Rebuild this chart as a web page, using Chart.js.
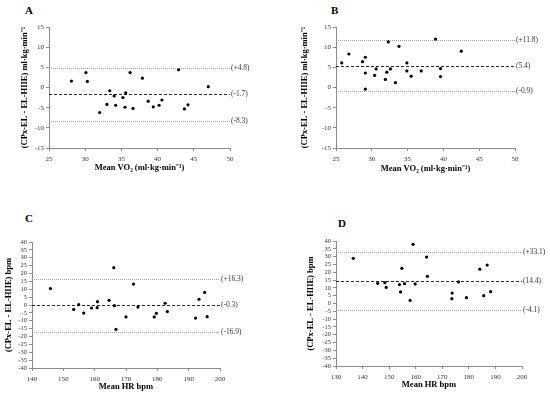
<!DOCTYPE html>
<html>
<head>
<meta charset="utf-8">
<script src="https://cdn.jsdelivr.net/npm/chart.js@4.4.1/dist/chart.umd.min.js"></script>
<style>
  body { margin: 0; background: #fff; width: 550px; height: 396px; position: relative; overflow: hidden; }
  canvas { position: absolute; }
  .letter { position: absolute; font-family: "Liberation Serif", serif; font-weight: bold; font-size: 11px; line-height: 11px; color: #000; }
</style>
</head>
<body>
<div class="letter" style="left:25px;top:5px">A</div>
<div class="letter" style="left:331px;top:5px">B</div>
<div class="letter" style="left:25px;top:213px">C</div>
<div class="letter" style="left:338px;top:218px">D</div>
<canvas id="chartA" width="275" height="196" style="left:0;top:0"></canvas>
<canvas id="chartB" width="275" height="196" style="left:275px;top:0"></canvas>
<canvas id="chartC" width="275" height="200" style="left:0;top:196px"></canvas>
<canvas id="chartD" width="275" height="200" style="left:275px;top:196px"></canvas>
<script>
// panel A - VO2, CPx-EL vs EL-HIIE
const aMean = [28.1, 30.1, 30.3, 32.0, 33.0, 33.4, 34.0, 34.2, 35.2, 35.5, 35.6, 36.2, 36.6, 37.9, 38.7, 39.4, 40.2, 40.6, 42.9, 43.7, 44.2, 47.0];
const aDiff = [1.6, 3.7, 1.5, -6.2, -4.2, -0.8, -2.1, -4.4, -2.5, -4.9, -1.3, 3.7, -5.2, 2.3, -3.4, -4.8, -4.4, -3.1, 4.4, -5.3, -4.3, 0.2];
const aBands = [4.8, -1.7, -8.3];
const aBandLabels = ['(+4.8)', '(-1.7)', '(-8.3)'];

// panel B
const bMean = [25.8, 26.8, 28.7, 29.1, 29.1, 29.1, 30.4, 30.6, 31.9, 32.1, 32.3, 32.6, 33.3, 33.8, 34.9, 34.9, 35.5, 36.9, 38.9, 39.6, 39.6, 42.5];
const bDiff = [6.1, 8.3, 6.4, 7.5, 3.6, -0.4, 3.0, 4.6, 2.0, 3.8, 11.3, 4.6, 1.2, 10.2, 6.1, 4.1, 2.8, 4.1, 12.0, 4.7, 2.7, 9.0];
const bBands = [11.8, 5.4, -0.9];
const bBandLabels = ['(+11.8)', '(5.4)', '(-0.9)'];

// panel C - HR
const cMean = [145.9, 153.3, 154.9, 156.5, 159.0, 160.8, 160.9, 164.6, 166.1, 166.3, 166.8, 170.0, 172.4, 173.8, 179.0, 179.7, 182.5, 183.2, 192.2, 193.3, 195.1, 195.9];
const cDiff = [10.4, -2.8, 0.2, -5.1, -1.9, -1.7, 2.1, 3.0, 23.7, -0.4, -15.5, -7.6, 13.3, -1.3, -7.6, -5.3, 1.1, -4.2, -8.3, 3.6, 8.0, -7.4];
const cBands = [16.3, -0.3, -16.9];
const cBandLabels = ['(+16.3)', '(-0.3)', '(-16.9)'];

// panel D
const dMean = [136.5, 145.7, 148.4, 148.9, 153.9, 154.3, 154.8, 155.8, 157.9, 159.0, 159.8, 164.1, 164.4, 173.6, 173.7, 176.1, 179.1, 184.1, 185.6, 186.9, 188.2];
const dDiff = [28.9, 12.9, 13.3, 10.3, 12.1, 7.4, 22.5, 12.7, 2.0, 37.9, 12.5, 29.7, 17.4, 3.1, 6.7, 13.8, 3.7, 22.0, 5.0, 24.6, 7.6];
const dBands = [33.1, 14.4, -4.1];
const dBandLabels = ['(+33.1)', '(14.4)', '(-4.1)'];

const vo2Title = '(CPx-EL - EL-HIIE) ml·kg·min⁻¹';
const vo2XTitle = 'Mean VO₂ (ml·kg·min⁻¹)';
const hrTitle = '(CPx-EL - EL-HIIE) bpm';
const hrXTitle = 'Mean HR bpm';

const serif = '"Liberation Serif", "Times New Roman", serif';
const axisGray = '#8a8a8a';

const bandLines = {
  id: 'bandLines',
  beforeDatasetsDraw(chart, args, opts) {
    const ctx = chart.ctx;
    const area = chart.chartArea;
    const y = chart.scales.y;
    ctx.save();
    opts.values.forEach(function (v, i) {
      const py = Math.round(y.getPixelForValue(v)) + 0.5;
      ctx.beginPath();
      if (i === 1) {
        ctx.setLineDash([3, 2]);
        ctx.strokeStyle = '#222';
      } else {
        ctx.setLineDash([1, 1]);
        ctx.strokeStyle = '#9a9a9a';
      }
      ctx.lineWidth = 1;
      ctx.moveTo(area.left, py);
      ctx.lineTo(area.right, py);
      ctx.stroke();
      ctx.setLineDash([]);
      ctx.fillStyle = '#333';
      ctx.font = '7.5px ' + serif;
      ctx.textBaseline = 'middle';
      ctx.textAlign = 'left';
      ctx.fillText(opts.labels[i], area.right + 1, py);
    });
    ctx.restore();
  }
};

function drawPanel(id, mean, diff, bands, bandLabels, s) {
  const canvas = document.getElementById(id);
  const W = canvas.width, H = canvas.height;
  const points = mean.map(function (m, i) { return { x: m, y: diff[i] }; });
  const yLh = s.titleSize * 1.2;
  new Chart(canvas.getContext('2d'), {
    type: 'scatter',
    data: {
      datasets: [{
        data: points,
        backgroundColor: '#000',
        borderWidth: 0,
        pointRadius: 1.6,
        pointHoverRadius: 1.6
      }]
    },
    options: {
      responsive: false,
      animation: false,
      events: [],
      layout: { padding: { left: 0, top: s.top, right: W - s.right, bottom: 0 } },
      plugins: {
        legend: { display: false },
        tooltip: { enabled: false },
        bandLines: { values: bands, labels: bandLabels }
      },
      scales: {
        x: {
          type: 'linear',
          min: s.xMin, max: s.xMax,
          afterFit: function (sc) { sc.height = H - s.bottom; },
          border: { display: true, color: axisGray, width: 1 },
          grid: { display: true, drawOnChartArea: false, drawTicks: true, tickLength: 3, color: axisGray },
          ticks: { stepSize: s.xStep, autoSkip: false, maxRotation: 0, padding: s.xTickPad, color: '#333', font: { family: serif, size: 7 } },
          title: {
            display: true, text: s.xTitle, color: '#000',
            font: { family: serif, size: s.titleSize, weight: 'bold' },
            padding: { top: 0, bottom: H - s.xTitleY - yLh / 2 }
          }
        },
        y: {
          type: 'linear',
          min: s.yMin, max: s.yMax,
          afterFit: function (sc) { sc.width = s.left; },
          border: { display: true, color: axisGray, width: 1 },
          grid: { display: true, drawOnChartArea: false, drawTicks: true, tickLength: 3, color: axisGray },
          ticks: { stepSize: 5, autoSkip: false, padding: 2, color: '#333', font: { family: serif, size: s.yTickSize } },
          title: {
            display: true, text: s.yTitle, color: '#000',
            font: { family: serif, size: s.titleSize, weight: 'bold' },
            padding: { top: s.yTitleX - yLh / 2, bottom: 0 }
          }
        }
      }
    },
    plugins: [bandLines]
  });
}

drawPanel('chartA', aMean, aDiff, aBands, aBandLabels, {
  left: 49, top: 27, right: 230, bottom: 148,
  xMin: 25, xMax: 50, xStep: 5, yMin: -15, yMax: 15, yTickSize: 7,
  xTickPad: 4, xTitleY: 168, yTitleX: 25, titleSize: 8.5,
  xTitle: vo2XTitle, yTitle: vo2Title
});
drawPanel('chartB', bMean, bDiff, bBands, bBandLabels, {
  left: 61, top: 27, right: 240, bottom: 148,
  xMin: 25, xMax: 50, xStep: 5, yMin: -15, yMax: 15, yTickSize: 7,
  xTickPad: 4, xTitleY: 169, yTitleX: 29.5, titleSize: 8.5,
  xTitle: vo2XTitle, yTitle: vo2Title
});
drawPanel('chartC', cMean, cDiff, cBands, cBandLabels, {
  left: 32, top: 46, right: 220, bottom: 172,
  xMin: 140, xMax: 200, xStep: 10, yMin: -40, yMax: 40, yTickSize: 6.5,
  xTickPad: 4, xTitleY: 191, yTitleX: 9, titleSize: 8.5,
  xTitle: hrXTitle, yTitle: hrTitle
});
drawPanel('chartD', dMean, dDiff, dBands, dBandLabels, {
  left: 61, top: 45, right: 247, bottom: 170,
  xMin: 130, xMax: 200, xStep: 10, yMin: -40, yMax: 40, yTickSize: 6.5,
  xTickPad: 4, xTitleY: 189, yTitleX: 36, titleSize: 8.5,
  xTitle: hrXTitle, yTitle: hrTitle
});
</script>
</body>
</html>
